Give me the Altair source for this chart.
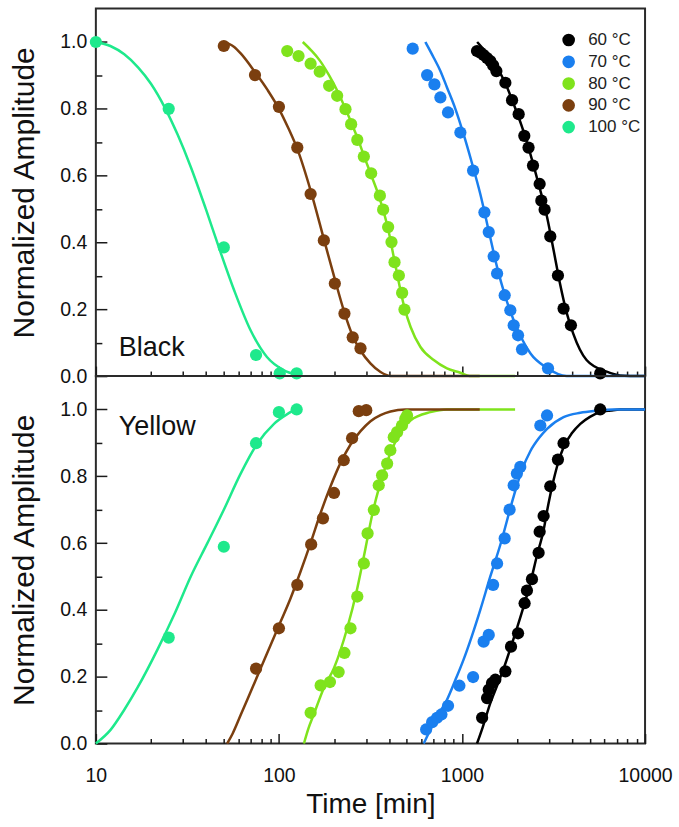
import altair as alt
import pandas as pd

FONT = "Liberation Sans"
TEMPS = ["60 °C", "70 °C", "80 °C", "90 °C", "100 °C"]
COLORS = ["#000000", "#1a7fef", "#7fe31c", "#7b3f0f", "#1ee98c"]
SERIES = [0, 1, 2, 3, 4]

# ---------------- Black (top panel) : measured points ----------------
b60_t = [1208, 1260, 1313, 1370, 1428, 1480, 1541, 1726, 1877, 2040, 2190, 2310, 2443, 2656, 2713, 2827, 3036, 3343, 3588, 3936, 5690]
b60_a = [0.973, 0.968, 0.961, 0.952, 0.943, 0.930, 0.913, 0.878, 0.826, 0.784, 0.719, 0.684, 0.630, 0.575, 0.525, 0.498, 0.418, 0.301, 0.202, 0.152, 0.008]
b70_t = [538, 645, 707, 762, 839, 980, 1150, 1326, 1400, 1490, 1555, 1711, 1837, 1916, 2024, 2128, 2951]
b70_a = [0.980, 0.901, 0.873, 0.834, 0.789, 0.729, 0.615, 0.490, 0.431, 0.358, 0.307, 0.242, 0.197, 0.152, 0.122, 0.080, 0.023]
b80_t = [111, 128, 149, 167, 188, 208, 231, 248, 268, 291, 319, 356, 371, 395, 412, 428, 452, 471, 485]
b80_a = [0.973, 0.958, 0.935, 0.911, 0.869, 0.839, 0.799, 0.754, 0.707, 0.657, 0.607, 0.540, 0.498, 0.446, 0.401, 0.341, 0.301, 0.249, 0.199]
b90_t = [50, 74, 100, 126, 149, 176, 202, 228, 253, 279]
b90_a = [0.988, 0.901, 0.806, 0.684, 0.545, 0.406, 0.277, 0.187, 0.116, 0.083]
b100_t = [10, 25, 50, 75, 101, 125]
b100_a = [1.0, 0.80, 0.385, 0.063, 0.008, 0.008]

# ---------------- Black (top panel) : fitted curves ----------------
cb60_t = [1210, 1350, 1555, 1730, 1916, 2130, 2362, 2620, 2915, 3170, 3430, 3730, 4052, 4790, 6170, 7300, 10000]
cb60_a = [1.0, 0.97, 0.923, 0.875, 0.814, 0.745, 0.665, 0.575, 0.476, 0.375, 0.277, 0.19, 0.127, 0.048, 0.013, 0.002, 0.0]
cb70_t = [631, 701, 760, 828, 920, 1020, 1130, 1259, 1400, 1555, 1720, 1916, 2130, 2362, 2915, 3730, 10000]
cb70_a = [1.0, 0.953, 0.915, 0.864, 0.80, 0.724, 0.64, 0.545, 0.435, 0.326, 0.24, 0.167, 0.11, 0.068, 0.024, 0.0, 0.0]
cb80_t = [135, 150, 167, 188, 208, 231, 250, 270, 291, 320, 356, 395, 428, 485, 524, 593, 701, 828, 980, 1100, 1950]
cb80_a = [1.0, 0.975, 0.945, 0.90, 0.855, 0.80, 0.755, 0.71, 0.66, 0.60, 0.53, 0.44, 0.345, 0.205, 0.147, 0.087, 0.048, 0.023, 0.01, 0.0, 0.0]
cb90_t = [50, 53, 57, 62, 74, 87, 100, 113, 126, 150, 176, 202, 228, 253, 280, 316, 359, 406, 1250]
cb90_a = [1.0, 0.995, 0.985, 0.965, 0.91, 0.855, 0.80, 0.74, 0.68, 0.55, 0.41, 0.29, 0.19, 0.12, 0.075, 0.038, 0.012, 0.0, 0.0]
cb100_t = [10, 12, 14.3, 17, 20, 24, 28, 33, 40, 47, 57, 70, 86, 106, 125]
cb100_a = [1.0, 0.988, 0.963, 0.924, 0.875, 0.80, 0.722, 0.626, 0.498, 0.385, 0.256, 0.137, 0.057, 0.018, 0.004]

# ---------------- Yellow (bottom panel) : measured points ----------------
y60_t = [1288, 1371, 1400, 1459, 1521, 1726, 1853, 2024, 2198, 2264, 2411, 2622, 2656, 2792, 3036, 3343, 3588, 5690]
y60_a = [0.077, 0.136, 0.161, 0.181, 0.191, 0.216, 0.290, 0.330, 0.420, 0.458, 0.492, 0.571, 0.634, 0.681, 0.770, 0.850, 0.899, 1.0]
y70_t = [637, 687, 731, 772, 839, 968, 1150, 1313, 1400, 1479, 1555, 1711, 1820, 1916, 1995, 2082, 2679, 2915]
y70_a = [0.042, 0.064, 0.077, 0.087, 0.113, 0.173, 0.199, 0.305, 0.325, 0.475, 0.539, 0.614, 0.700, 0.773, 0.808, 0.828, 0.952, 0.982]
y80_t = [149, 169, 190, 212, 228, 246, 268, 291, 305, 330, 351, 366, 390, 406, 424, 442, 470, 490, 501]
y80_a = [0.092, 0.174, 0.184, 0.214, 0.271, 0.345, 0.440, 0.539, 0.629, 0.699, 0.773, 0.803, 0.838, 0.878, 0.917, 0.932, 0.952, 0.972, 0.982]
y90_t = [75, 100, 126, 150, 174, 200, 226, 251, 273, 300]
y90_a = [0.224, 0.345, 0.475, 0.596, 0.674, 0.750, 0.848, 0.914, 0.995, 0.998]
y100_t = [25, 50, 75, 100, 125]
y100_a = [0.317, 0.589, 0.899, 0.992, 1.0]

# ---------------- Yellow (bottom panel) : fitted curves ----------------
cy60_t = [1208, 1300, 1428, 1560, 1690, 1840, 1995, 2170, 2362, 2560, 2792, 2960, 3163, 3370, 3588, 4000, 4430, 5000, 5690, 6500, 7300, 10000]
cy60_a = [0.0, 0.05, 0.121, 0.175, 0.225, 0.285, 0.345, 0.41, 0.48, 0.56, 0.639, 0.715, 0.788, 0.845, 0.887, 0.93, 0.957, 0.978, 0.992, 0.997, 1.0, 1.0]
cy70_t = [618, 673, 740, 828, 920, 1020, 1130, 1259, 1428, 1620, 1916, 2130, 2362, 2640, 2915, 3588, 4430, 5400, 6700, 10000]
cy70_a = [0.0, 0.042, 0.085, 0.131, 0.19, 0.251, 0.32, 0.40, 0.50, 0.595, 0.74, 0.82, 0.875, 0.915, 0.942, 0.977, 0.99, 0.996, 1.0, 1.0]
cy80_t = [137, 145, 155, 176, 200, 236, 268, 297, 323, 351, 390, 442, 523, 673, 828, 1950]
cy80_a = [0.0, 0.045, 0.087, 0.166, 0.226, 0.345, 0.465, 0.584, 0.684, 0.763, 0.843, 0.913, 0.967, 0.992, 1.0, 1.0]
cy90_t = [52.2, 55.9, 61.8, 70.1, 79.5, 90.1, 102.2, 115.8, 131.3, 148.9, 168.9, 191.5, 217.1, 246.2, 279.1, 316.4, 358.8, 406.9, 491, 1250]
cy90_a = [0.0, 0.03, 0.085, 0.155, 0.225, 0.295, 0.365, 0.435, 0.515, 0.60, 0.69, 0.77, 0.84, 0.895, 0.935, 0.965, 0.983, 0.994, 1.0, 1.0]
cy100_t = [10, 12, 14.3, 17, 21.7, 27, 33, 40.6, 50, 61.8, 76, 94, 115.6, 122]
cy100_a = [0.0, 0.04, 0.101, 0.17, 0.281, 0.39, 0.50, 0.599, 0.70, 0.808, 0.897, 0.957, 0.992, 1.0]

# ---------------- axis tick values ----------------
MAJ_X = [10, 100, 1000, 10000]
MIN_X = [20, 30, 40, 50, 60, 70, 80, 90, 200, 300, 400, 500, 600, 700, 800, 900,
         2000, 3000, 4000, 5000, 6000, 7000, 8000, 9000]
MAJ_Y = [0.0, 0.2, 0.4, 0.6, 0.8, 1.0]
MIN_Y = [0.1, 0.3, 0.5, 0.7, 0.9]


def frame(series):
    rows = []
    for k, (ts, amps) in enumerate(series):
        for t, a in zip(ts, amps):
            rows.append({"k": k, "temp": TEMPS[k], "t": t, "a": a})
    return pd.DataFrame(rows)


black_pts = frame([(b60_t, b60_a), (b70_t, b70_a), (b80_t, b80_a), (b90_t, b90_a), (b100_t, b100_a)])
black_crv = frame([(cb60_t, cb60_a), (cb70_t, cb70_a), (cb80_t, cb80_a), (cb90_t, cb90_a), (cb100_t, cb100_a)])
yel_pts = frame([(y60_t, y60_a), (y70_t, y70_a), (y80_t, y80_a), (y90_t, y90_a), (y100_t, y100_a)])
yel_crv = frame([(cy60_t, cy60_a), (cy70_t, cy70_a), (cy80_t, cy80_a), (cy90_t, cy90_a), (cy100_t, cy100_a)])

W, H = 550, 368
TICK = "#1a1a1a"


def panel(pts, crv, label, label_y, bottom, show_legend):
    xs = alt.Scale(type="log", domain=[10, 10000], nice=False)
    ys = alt.Scale(domain=[0, 1.1], nice=False, zero=False)
    cs = alt.Scale(domain=TEMPS, range=COLORS)
    ss = alt.Scale(domain=SERIES, range=COLORS)

    if bottom:
        x_enc = alt.X("t:Q", scale=xs, axis=alt.Axis(
            orient="bottom", values=MAJ_X, format="d", ticks=False, domain=False, grid=False,
            labelFlush=False, labelPadding=23, title="Time [min]", titlePadding=6, titleFontSize=28))
    else:
        x_enc = alt.X("t:Q", scale=xs, axis=None)
    y_main = alt.Axis(orient="left", values=MAJ_Y, format=".1f", ticks=False, domain=False,
                      grid=False, labelFlush=False, labelPadding=9, title="Normalized Amplitude",
                      titlePadding=20, titleFontSize=30)

    # fitted curves: stroke keyed on the series index (separate scale, no legend)
    lines = alt.Chart(crv).mark_line(strokeWidth=2.5, interpolate="monotone").encode(
        x=x_enc,
        y=alt.Y("a:Q", scale=ys, axis=y_main),
        stroke=alt.Stroke("k:N", scale=ss, legend=None),
        detail="k:O",
    )

    minor = alt.Chart(crv).mark_line(strokeOpacity=0).encode(
        x=alt.X("t:Q", scale=xs, axis=alt.Axis(orient="top", offset=-H, values=MIN_X, labels=False,
                                               domain=False, grid=False, tickSize=5, tickWidth=1.5,
                                               tickColor=TICK, title=None)),
        y=alt.Y("a:Q", scale=ys, axis=alt.Axis(orient="right", offset=-W, values=MIN_Y, labels=False,
                                               domain=False, grid=False, tickSize=6, tickWidth=1.5,
                                               tickColor=TICK, title=None)),
        detail="k:O",
    )

    if show_legend:
        color_enc = alt.Color("temp:N", scale=cs, legend=alt.Legend(
            orient="none", legendX=465, legendY=23, title=None, labelFont=FONT,
            labelFontSize=17, labelColor="#222", symbolType="circle", symbolSize=160,
            symbolStrokeWidth=0, rowPadding=3.8, labelOffset=11, padding=0))
    else:
        color_enc = alt.Color("temp:N", scale=cs, legend=None)

    points = alt.Chart(pts).mark_circle(size=150, opacity=1).encode(
        x=alt.X("t:Q", scale=xs, axis=alt.Axis(orient="top", offset=-H, values=MAJ_X, labels=False,
                                               domain=False, grid=False, tickSize=10, tickWidth=1.5,
                                               tickColor=TICK, title=None)),
        y=alt.Y("a:Q", scale=ys, axis=alt.Axis(orient="right", offset=-W, values=MAJ_Y, labels=False,
                                               domain=False, grid=False, tickSize=11, tickWidth=1.5,
                                               tickColor=TICK, title=None)),
        color=color_enc,
    )

    text = alt.Chart(pd.DataFrame({"s": [label]})).mark_text(
        align="left", baseline="alphabetic", font=FONT, fontSize=27, color="#111"
    ).encode(text="s:N", x=alt.value(23), y=alt.value(label_y))

    return alt.layer(lines, minor, points, text).resolve_axis(
        x="independent", y="independent"
    ).properties(width=W, height=H)


top = panel(black_pts, black_crv, "Black", 348, False, True)
bot = panel(yel_pts, yel_crv, "Yellow", 59, True, False)

chart = alt.vconcat(top, bot, spacing=0, bounds="flush").resolve_scale(
    color="independent", stroke="independent"
).configure_view(
    stroke="#2a2a2a", strokeWidth=2
).configure_axis(
    labelFont=FONT, labelFontSize=19.5, labelColor="#111",
    titleFont=FONT, titleFontWeight="normal", titleColor="#111"
).properties(padding={"left": 8, "top": 7, "right": 5, "bottom": 5})

chart.save("out.html", embed_options={"renderer": "svg", "actions": False})
